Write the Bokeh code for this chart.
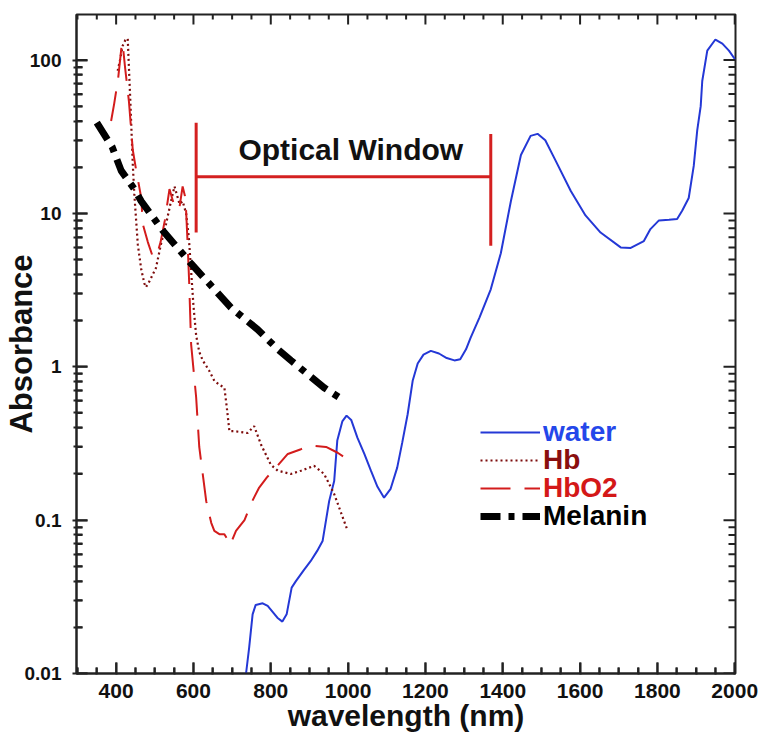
from bokeh.plotting import figure
from bokeh.models import Range1d, FixedTicker, Legend, LegendItem, Label
from bokeh.embed import file_html
from bokeh.resources import INLINE

# ---------------- data ----------------
water_nm = [736, 744, 753, 761, 779, 792, 817, 830, 841, 854, 865, 885, 903, 920, 934,
            951, 964, 972, 985, 996, 1008, 1024, 1042, 1059, 1076, 1093, 1110, 1127, 1140,
            1154, 1167, 1180, 1195, 1214, 1235, 1255, 1275, 1290, 1305, 1317, 1340, 1369,
            1395, 1421, 1447, 1472, 1490, 1510, 1537, 1576, 1614, 1653, 1705, 1731, 1765,
            1782, 1804, 1830, 1851, 1864, 1881, 1894, 1903, 1912, 1916, 1929, 1950, 1968,
            1985, 2002]
water_abs = [0.01, 0.0147, 0.0243, 0.028, 0.0287, 0.0276, 0.0231, 0.0218, 0.0243, 0.0363,
             0.040, 0.047, 0.054, 0.063, 0.073, 0.133, 0.18, 0.33, 0.44, 0.48, 0.45, 0.345,
             0.27, 0.21, 0.165, 0.14, 0.16, 0.22, 0.32, 0.49, 0.81, 1.05, 1.2, 1.27, 1.22,
             1.14, 1.1, 1.12, 1.3, 1.55, 2.1, 3.2, 5.5, 12, 24, 32, 33, 30, 22, 14, 9.7, 7.5,
             6.0, 5.95, 6.6, 7.9, 9.0, 9.1, 9.2, 10.4, 12.6, 20.4, 34.8, 50, 73, 115, 136,
             128, 115, 100]

hb_nm = [404, 410, 417, 424, 430, 437, 443, 447, 456, 465, 473, 477, 486, 503, 516, 529,
         542, 551, 558, 564, 572, 581, 588, 594, 600, 607, 615, 624, 640, 654, 668, 680,
         686, 693, 706, 740, 757, 775, 800, 818, 852, 878, 912, 938, 964, 999]
hb_abs = [85, 100, 124, 135, 138, 52, 21, 13.4, 6.3, 4.3, 3.5, 3.3, 3.6, 4.4, 6.3, 8.5,
          12, 15, 13, 11.5, 12, 10, 7, 4.2, 2.5, 1.6, 1.25, 1.1, 0.95, 0.81, 0.76, 0.73,
          0.55, 0.38, 0.38, 0.37, 0.41, 0.31, 0.23, 0.21, 0.2, 0.21, 0.226, 0.20, 0.148,
          0.085]

hbo2_nm = [387, 395, 405, 412, 415, 418, 423, 433, 443, 452, 465, 469, 482, 495, 505, 515,
           526, 538, 547, 556, 564, 572, 578, 581, 585, 589, 594, 607, 615, 633, 646, 654,
           667, 680, 688, 695, 710, 732, 750, 770, 790, 813, 844, 878, 891, 915, 943, 973,
           1011]
hbo2_abs = [40, 52, 75, 110, 130, 120, 90, 54, 26, 19, 12.6, 8.5, 6.5, 5.2, 5.3, 6.5, 9,
            14.4, 12, 10.5, 11, 15, 13, 10.4, 6.3, 3.5, 1.4, 0.63, 0.30, 0.133, 0.096,
            0.085, 0.081, 0.081, 0.075, 0.069, 0.085, 0.1, 0.13, 0.163, 0.19, 0.22, 0.27,
            0.29, 0.30, 0.305, 0.30, 0.275, 0.237]

melanin_nm = [350, 390, 413, 447, 465, 521, 594, 697, 766, 818, 852, 938, 990]
melanin_abs = [39, 27, 19, 14.4, 12, 7.7, 4.7, 2.43, 1.75, 1.3, 1.1, 0.73, 0.6]

# optical window bracket
window_start, window_end = 607, 1369
window_level = 17.3
window_left_bar = [7.5, 39]
window_right_bar = [6.15, 32.9]
window_label = "Optical Window"
window_label_pos = (1007, 26)

x_ticks = [400, 600, 800, 1000, 1200, 1400, 1600, 1800, 2000]
x_minor = [v for v in range(300, 2001, 50) if v not in x_ticks]
y_ticks = [0.01, 0.1, 1, 10, 100]
y_tick_labels = ["0.01", "0.1", "1", "10", "100"]
y_minor = [m * d for d in [0.01, 0.1, 1, 10, 100] for m in range(2, 10) if m * d < 200]

x_lo, x_hi = 297.5, 2002
y_lo, y_hi = 0.01, 198

series_names = ["water", "Hb", "HbO2", "Melanin"]
series_colors = ["#2438d6", "#7e0c0c", "#d31c1c", "black"]
label_colors = ["#2447ea", "#8a0f0f", "#d41818", "black"]

FONT = "Liberation Sans"
AX = "#222222"

# ---------------- figure ----------------
p = figure(width=758, height=740, y_axis_type="log",
           x_range=Range1d(x_lo, x_hi), y_range=Range1d(y_lo, y_hi),
           output_backend="svg", toolbar_location=None,
           min_border_left=75, min_border_right=23, min_border_top=14,
           min_border_bottom=67)
p.grid.visible = False
p.outline_line_color = AX
p.outline_line_width = 2

xa = p.xaxis[0]
xa.ticker = FixedTicker(ticks=x_ticks, minor_ticks=x_minor)
ya = p.yaxis[0]
ya.ticker = FixedTicker(ticks=y_ticks, minor_ticks=y_minor)
ya.major_label_overrides = {t: s for t, s in zip(y_ticks, y_tick_labels)}

for ax in (xa, ya):
    ax.axis_line_color = AX
    ax.axis_line_width = 2
    ax.major_tick_line_color = AX
    ax.minor_tick_line_color = AX
    ax.major_tick_line_width = 2
    ax.minor_tick_line_width = 2
    ax.major_label_text_font = FONT
    ax.major_label_text_font_style = "bold"
    ax.major_label_text_color = "#111111"
    ax.axis_label_text_font = FONT
    ax.axis_label_text_font_style = "bold"
    ax.axis_label_text_color = "#111111"

xa.major_tick_in, xa.major_tick_out, xa.minor_tick_in, xa.minor_tick_out = 11, 1, 6, 1
xa.major_label_text_font_size = "21px"
xa.major_label_standoff = 9
xa.axis_label = "wavelength (nm)"
xa.axis_label_text_font_size = "30px"
xa.axis_label_standoff = -2

ya.major_tick_in, ya.major_tick_out, ya.minor_tick_in, ya.minor_tick_out = 11, 4, 6, 3
ya.major_label_text_font_size = "19px"
ya.major_label_standoff = 11
ya.axis_label = "Absorbance"
ya.axis_label_text_font_size = "31px"
ya.axis_label_standoff = -17

# ---------------- curves ----------------
r_water = p.line(water_nm, water_abs, line_color=series_colors[0], line_width=2)
r_hb = p.line(hb_nm, hb_abs, line_color=series_colors[1], line_width=2.2,
              line_dash="2 3")
r_hbo2 = p.line(hbo2_nm, hbo2_abs, line_color=series_colors[2], line_width=2,
                line_dash="30 14")
r_mel = p.line(melanin_nm, melanin_abs, line_color=series_colors[3], line_width=7,
               line_dash="20 8 6 8")

# optical window bracket
p.segment(x0=[window_start, window_start, window_end],
          y0=[window_level, window_left_bar[0], window_right_bar[0]],
          x1=[window_end, window_start, window_end],
          y1=[window_level, window_left_bar[1], window_right_bar[1]],
          line_color="#d42020", line_width=3)

# ---- inward tick marks as small filled bars (screen-sized), centred on the frame edge;
#      the half outside the frame is clipped away
TK = dict(fill_color=AX, line_color=None, width_units="screen", height_units="screen")
p.rect(x=x_ticks, y=[y_lo] * len(x_ticks), width=2, height=22, **TK)
p.rect(x=x_minor, y=[y_lo] * len(x_minor), width=2, height=12, **TK)
p.rect(x=x_ticks, y=[y_hi] * len(x_ticks), width=2, height=20, **TK)
p.rect(x=x_minor, y=[y_hi] * len(x_minor), width=2, height=10, **TK)
p.rect(x=[x_lo] * len(y_ticks), y=y_ticks, width=22, height=2, **TK)
p.rect(x=[x_lo] * len(y_minor), y=y_minor, width=12, height=2, **TK)
p.rect(x=[x_hi] * len(y_ticks), y=y_ticks, width=24, height=2, **TK)
p.rect(x=[x_hi] * len(y_minor), y=y_minor, width=14, height=2, **TK)

p.add_layout(Label(x=window_label_pos[0], y=window_label_pos[1], text=window_label,
                   text_align="center", text_baseline="alphabetic",
                   text_font=FONT, text_font_style="bold", text_font_size="30px",
                   text_color="#111111"))

# ---------------- legends (one per item, for per-item text colours) ----------------
renderers = [r_water, r_hb, r_hbo2, r_mel]
row_bottoms = [224.7, 196.7, 168.7, 140.7]
for name, r, col, yb in zip(series_names, renderers, label_colors, row_bottoms):
    lg = Legend(items=[LegendItem(label=name, renderers=[r])],
                location=(404, yb), glyph_width=60, glyph_height=32,
                label_height=32, label_standoff=3, padding=0, margin=0, spacing=0,
                border_line_color=None, background_fill_alpha=0,
                label_text_font=FONT, label_text_font_style="bold",
                label_text_font_size="28px", label_text_color=col)
    p.add_layout(lg)

open("out.html", "w").write(file_html(p, INLINE))
